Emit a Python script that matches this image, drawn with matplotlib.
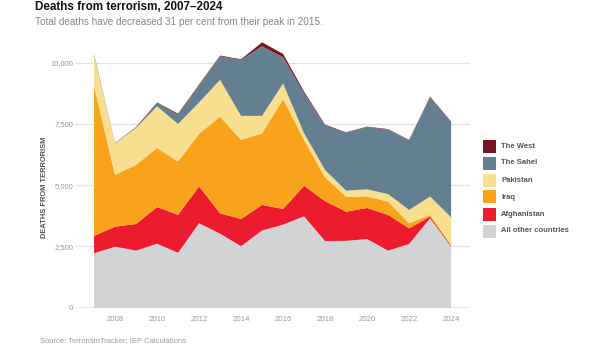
import matplotlib
matplotlib.use("Agg")
import matplotlib.pyplot as plt
from matplotlib.patches import Rectangle
import numpy as np

years = list(range(2007, 2025))
other = [2220, 2490, 2330, 2610, 2240, 3450, 3020, 2510, 3150, 3390, 3730, 2720, 2730, 2800, 2330, 2600, 3650, 2490]
afghanistan = [710, 820, 1085, 1500, 1550, 1500, 835, 1110, 1045, 640, 1245, 1630, 1190, 1270, 1460, 640, 70, 50]
iraq = [6120, 2110, 2415, 2410, 2180, 2150, 3945, 3230, 2925, 4480, 1875, 970, 610, 470, 540, 210, 70, 20]
pakistan = [1250, 1280, 1510, 1700, 1530, 1280, 1500, 980, 710, 640, 270, 300, 250, 290, 310, 540, 750, 1130]
sahel = [30, 10, 30, 140, 380, 700, 960, 2280, 2840, 1070, 1630, 1820, 2360, 2540, 2630, 2840, 4060, 3890]
west = [20, 10, 10, 20, 40, 30, 30, 30, 160, 140, 70, 30, 20, 20, 20, 20, 20, 20]

series_names = ["All other countries", "Afghanistan", "Iraq", "Pakistan", "The Sahel", "The West"]
series_values = [other, afghanistan, iraq, pakistan, sahel, west]
colors = ["#d2d3d5", "#ec1c2e", "#f9a21b", "#f7df8f", "#647f90", "#7a1422"]

yticks = [0, 2500, 5000, 7500, 10000]
ytick_labels = ["0", "2,500", "5,000", "7,500", "10,000"]
xticks = list(range(2008, 2025, 2))

title = "Deaths from terrorism, 2007\u20132024"
subtitle = "Total deaths have decreased 31 per cent from their peak in 2015."
ylabel = "DEATHS FROM TERRORISM"
source = "Source: TerrorismTracker; IEP Calculations"

plt.rcParams['font.family'] = ['Liberation Sans', 'DejaVu Sans']

W, H = 599, 363
fig = plt.figure(figsize=(W / 100, H / 100), dpi=100)
fig.patch.set_facecolor("white")

ax = fig.add_axes([76 / W, 1 - 307.7 / H, (470 - 76) / W, (307.7 - 38.2) / H])
ax.stackplot(years, *series_values, colors=colors, linewidth=0, zorder=2)

ax.set_xlim(2006.14, 2024.9)
ax.set_ylim(0, 11000)
ax.set_yticks(yticks)
ax.set_yticklabels(ytick_labels)
ax.set_xticks(xticks)
ax.set_xticklabels([str(x) for x in xticks])
for y in yticks[1:]:
    ax.axhline(y, color="#e3e3e3", lw=0.9, zorder=1)
ax.axhline(0, color="#8a8a8a", lw=1.0, zorder=3)
for s in ax.spines.values():
    s.set_visible(False)
ax.tick_params(axis="y", length=0, pad=2, labelsize=5.5, labelcolor="#9a9a9a")
ax.tick_params(axis="x", length=0, pad=6, labelsize=5.7, labelcolor="#9a9a9a")
ax.set_facecolor("none")

fig.text(45 / W, 1 - 187 / H, ylabel, rotation=90, ha="center", va="center",
         fontsize=5.4, color="#555555", fontweight="bold")

fig.text(35 / W, 1 - 7 / H, title, ha="left", va="center", fontsize=8.4,
         fontweight="bold", color="#111111")
fig.text(35 / W, 1 - 22 / H, subtitle, ha="left", va="center", fontsize=7.2,
         color="#888888")
fig.text(40 / W, 1 - 341 / H, source, ha="left", va="center", fontsize=5.5,
         color="#9a9a9a")

# legend
legend_y = [146, 163, 180, 197, 214, 231]
for name, col, ly in zip(series_names[::-1], colors[::-1], legend_y):
    fig.add_artist(Rectangle((483 / W, 1 - (ly + 6.5) / H), 13 / W, 13 / H,
                             transform=fig.transFigure, facecolor=col, edgecolor="none"))
    fig.text(501 / W, 1 - ly / H, name, ha="left", va="center", fontsize=5.5,
             fontweight="bold", color="#555555")

fig.savefig("out.png", dpi=100)
